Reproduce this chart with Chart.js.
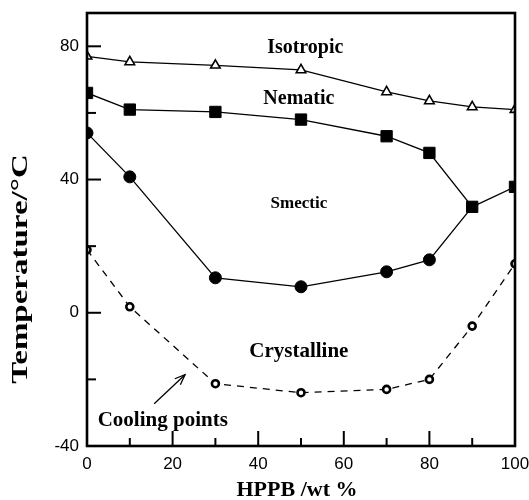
<!DOCTYPE html>
<html><head><meta charset="utf-8">
<script src="https://cdn.jsdelivr.net/npm/chart.js@4.4.1/dist/chart.umd.min.js"></script>
<style>html,body{margin:0;padding:0;background:#fff}#wrap{width:529px;height:500px}</style>
</head><body><div id="wrap"><canvas id="c" width="529" height="500"></canvas></div>
<script>
const hppb = [0, 10, 30, 50, 70, 80, 90, 100];
const isotropic = [77, 75.3, 74.3, 72.9, 66.3, 63.6, 61.8, 61];
const nematic = [66, 61, 60.3, 58, 53, 48, 31.8, 37.8];
const smecticX = [0, 10, 30, 50, 70, 80, 90];
const smectic = [54, 40.8, 10.5, 7.8, 12.3, 15.9, 31.8];
const cooling = [18.9, 1.8, -21.3, -24, -23, -20, -4, 14.7];
const xTicks = [0, 10, 20, 30, 40, 50, 60, 70, 80, 90, 100];
const xLabels = [0, 20, 40, 60, 80, 100];
const yTicks = [-40, -20, 0, 20, 40, 60, 80];
const yLabels = [-40, 0, 40, 80];
const phaseLabels = [
  {text: 'Isotropic', x: 51, y: 79.4, size: 20},
  {text: 'Nematic', x: 49.5, y: 64.2, size: 20},
  {text: 'Smectic', x: 49.5, y: 32.7, size: 17},
  {text: 'Crystalline', x: 49.5, y: -11.6, size: 21},
  {text: 'Cooling points', x: 17.7, y: -32.3, size: 21}
];

const pts = (xs, ys) => xs.map((x, i) => ({x: x, y: ys[i]}));
const serif = '"Liberation Serif", "Times New Roman", serif';
const sans = '"Liberation Sans", Arial, sans-serif';

const deco = {
  id: 'deco',
  afterDraw(chart) {
    const {ctx, chartArea: a, scales: {x, y}} = chart;
    ctx.save();
    ctx.strokeStyle = '#000';
    ctx.lineWidth = 2;
    xTicks.forEach(v => {
      const px = x.getPixelForValue(v);
      const len = (v % 20 === 0) ? 15 : 8;
      ctx.beginPath(); ctx.moveTo(px, a.bottom); ctx.lineTo(px, a.bottom - len); ctx.stroke();
    });
    yTicks.forEach(v => {
      const py = y.getPixelForValue(v);
      const len = (v % 40 === 0) ? 14 : 9;
      ctx.beginPath(); ctx.moveTo(a.left, py); ctx.lineTo(a.left + len, py); ctx.stroke();
    });
    ctx.lineWidth = 2.6;
    ctx.strokeRect(a.left, a.top, a.right - a.left, a.bottom - a.top);
    ctx.fillStyle = '#000';
    ctx.textAlign = 'center';
    ctx.textBaseline = 'middle';
    phaseLabels.forEach(l => {
      ctx.font = 'bold ' + l.size + 'px ' + serif;
      ctx.fillText(l.text, x.getPixelForValue(l.x), y.getPixelForValue(l.y));
    });
    const x0 = x.getPixelForValue(15.7), y0 = y.getPixelForValue(-27.3);
    const x1 = x.getPixelForValue(22.9), y1 = y.getPixelForValue(-18.6);
    ctx.lineWidth = 1.3;
    ctx.beginPath(); ctx.moveTo(x0, y0); ctx.lineTo(x1, y1); ctx.stroke();
    const ang = Math.atan2(y1 - y0, x1 - x0);
    const h = 11, spread = 0.38;
    ctx.beginPath();
    ctx.moveTo(x1 - h * Math.cos(ang - spread), y1 - h * Math.sin(ang - spread));
    ctx.lineTo(x1, y1);
    ctx.lineTo(x1 - h * Math.cos(ang + spread), y1 - h * Math.sin(ang + spread));
    ctx.stroke();
    ctx.font = 'bold 22px ' + serif;
    ctx.fillText('HPPB /wt %', 297, 490);
    ctx.translate(21, 269);
    ctx.rotate(-Math.PI / 2);
    ctx.scale(1.5, 1.05);
    ctx.fillText('Temperature/°C', 0, 0);
    ctx.restore();
  }
};

new Chart(document.getElementById('c'), {
  type: 'line',
  data: {
    datasets: [
      {label: 'Isotropic', data: pts(hppb, isotropic), borderColor: '#000', borderWidth: 1.3,
       pointStyle: 'triangle', pointRadius: 5.5, pointBorderWidth: 1.6, pointBackgroundColor: '#fff', pointBorderColor: '#000', order: 1},
      {label: 'Nematic', data: pts(hppb, nematic), borderColor: '#000', borderWidth: 1.3,
       pointStyle: 'rect', pointRadius: 8, pointBorderWidth: 1, pointBackgroundColor: '#000', pointBorderColor: '#000', order: 2},
      {label: 'Smectic', data: pts(smecticX, smectic), borderColor: '#000', borderWidth: 1.3,
       pointStyle: 'circle', pointRadius: [6, 6, 6, 6, 6, 6, 0], pointBorderWidth: 1, pointBackgroundColor: '#000', pointBorderColor: '#000', order: 3},
      {label: 'Cooling', data: pts(hppb, cooling), borderColor: '#000', borderWidth: 1.3, borderDash: [7, 6],
       pointStyle: 'circle', pointRadius: 3.5, pointBorderWidth: 2.6, pointBackgroundColor: '#fff', pointBorderColor: '#000', order: 4}
    ]
  },
  options: {
    responsive: false,
    animation: false,
    layout: {padding: {left: 0, right: 14, top: 13, bottom: 0}},
    plugins: {legend: {display: false}, tooltip: {enabled: false}},
    elements: {line: {tension: 0, fill: false}},
    scales: {
      x: {
        type: 'linear', min: 0, max: 100,
        afterBuildTicks: s => { s.ticks = xLabels.map(v => ({value: v})); },
        afterFit: s => { s.height = 54; s.paddingLeft = 0; s.paddingRight = 0; },
        grid: {display: false, drawTicks: false},
        border: {display: false},
        ticks: {padding: 8, color: '#000', font: {family: sans, size: 17}, maxRotation: 0}
      },
      y: {
        type: 'linear', min: -40, max: 90,
        afterBuildTicks: s => { s.ticks = yLabels.map(v => ({value: v})); },
        afterFit: s => { s.width = 87; s.paddingTop = 0; s.paddingBottom = 0; },
        grid: {display: false, drawTicks: false},
        border: {display: false},
        ticks: {padding: 8, color: '#000', font: {family: sans, size: 17}}
      }
    }
  },
  plugins: [deco]
});
</script>
</body></html>
